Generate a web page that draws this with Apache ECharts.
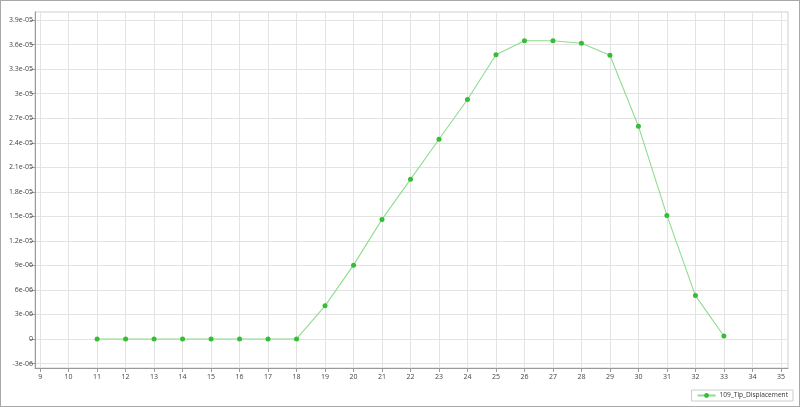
<!DOCTYPE html>
<html>
<head>
<meta charset="utf-8">
<script src="https://cdn.jsdelivr.net/npm/echarts@6/dist/echarts.min.js"></script>
<style>
  html, body { margin: 0; padding: 0; background: #fff; }
  #wrap { width: 800px; height: 407px; box-sizing: border-box; border: 1px solid #a8a8a8; }
  #main { width: 798px; height: 405px; }
</style>
</head>
<body>
<div id="wrap"><div id="main"></div></div>
<script>
// data
var seriesName = '109_Tip_Displacement';
var xValues = [11, 12, 13, 14, 15, 16, 17, 18, 19, 20, 21, 22, 23, 24, 25, 26, 27, 28, 29, 30, 31, 32, 33];
var yValues = [0, 0, 0, 0, 0, 0, 0, 0,
  4.05e-6, 9.03e-6, 1.463e-5, 1.953e-5, 2.443e-5, 2.93e-5, 3.477e-5,
  3.649e-5, 3.649e-5, 3.617e-5, 3.47e-5, 2.603e-5, 1.512e-5, 5.31e-6, 3.7e-7];
var xTicks = [9, 10, 11, 12, 13, 14, 15, 16, 17, 18, 19, 20, 21, 22, 23, 24, 25, 26, 27, 28, 29, 30, 31, 32, 33, 34, 35];
var yTicks = [-3e-6, 0, 3e-6, 6e-6, 9e-6, 1.2e-5, 1.5e-5, 1.8e-5, 2.1e-5, 2.4e-5, 2.7e-5, 3e-5, 3.3e-5, 3.6e-5, 3.9e-5];

function fmtExp(v) {
  if (v === 0) return '0';
  var s = Number(v.toPrecision(3)).toExponential();
  return s.replace(/e([+-])(\d)$/, 'e$10$2');
}

var points = xValues.map(function (x, i) { return [x, yValues[i]]; });

var labelStyle = { color: '#444', fontSize: 7, fontFamily: 'Open Sans, sans-serif' };

var myChart = echarts.init(document.getElementById('main'));
myChart.setOption({
  animation: false,
  grid: {
    left: 34, right: 11, top: 11, bottom: 38,
    show: true, borderColor: '#cfcfcf', borderWidth: 1
  },
  xAxis: {
    type: 'value', min: 8.82, max: 35.25,
    axisLine: { show: true, onZero: false, lineStyle: { color: '#9a9a9a' } },
    axisTick: { show: true, length: 4, customValues: xTicks, lineStyle: { color: '#9a9a9a' } },
    axisLabel: Object.assign({ customValues: xTicks, margin: 5 }, labelStyle),
    splitLine: { show: true, lineStyle: { color: '#e3e3e3' } }
  },
  yAxis: {
    type: 'value', min: -3.55e-6, max: 4.0e-5,
    axisLine: { show: true, onZero: false, lineStyle: { color: '#9a9a9a' } },
    axisTick: { show: true, length: 5, customValues: yTicks, lineStyle: { color: '#9a9a9a' } },
    axisLabel: Object.assign({ customValues: yTicks, margin: 2, formatter: fmtExp }, labelStyle),
    splitLine: { show: true, lineStyle: { color: '#e3e3e3' } }
  },
  legend: {
    right: 6, bottom: 5,
    data: [seriesName],
    borderColor: '#cccccc', borderWidth: 1, borderRadius: 0,
    padding: [2, 5, 2, 5],
    itemWidth: 18, itemHeight: 6, itemGap: 4,
    textStyle: { color: '#333', fontSize: 6.6, fontFamily: 'Open Sans, sans-serif', padding: [0, 0, 0, -1] }
  },
  series: [{
    name: seriesName,
    type: 'line',
    data: points,
    symbol: 'circle',
    symbolSize: 5,
    itemStyle: { color: '#35bd35' },
    lineStyle: { color: '#8fdc8f', width: 1.1 }
  }]
});
</script>
</body>
</html>
